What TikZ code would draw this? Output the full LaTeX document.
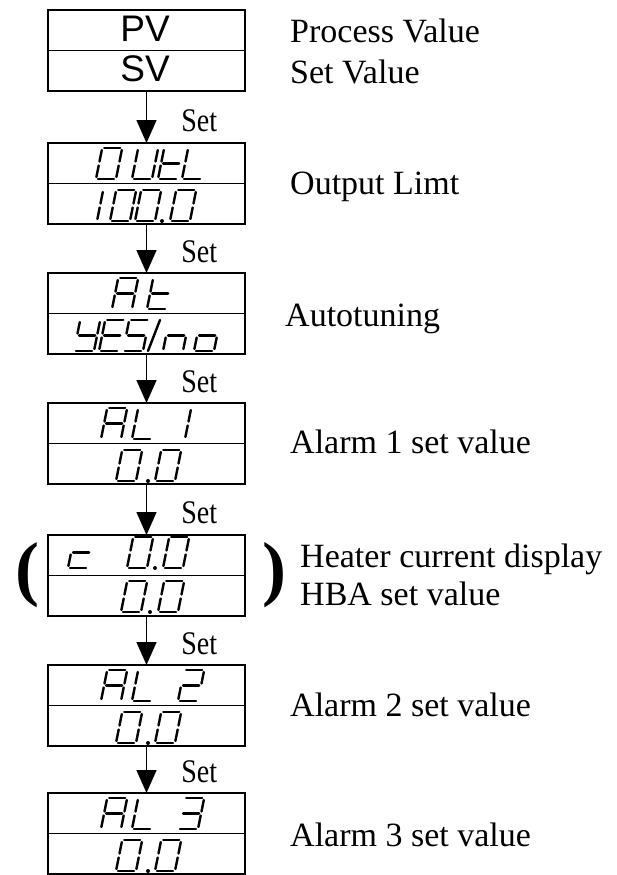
\documentclass[tikz,border=0pt]{standalone}
\usepackage{fontspec}
\setmainfont{Liberation Serif}
\setsansfont{Liberation Sans}
\newfontfamily\setfont[FakeStretch=0.85]{Liberation Serif}
\usetikzlibrary{arrows.meta}

% seven-segment strokes of one digit cell, 20 wide and 31 high, origin at
% the bottom left corner (a top, b/c right, d bottom, e/f left, g middle)
\tikzset{
  sega/.style={insert path={(2,-31) -- (18,-31)}},
  segb/.style={insert path={(20,-29) -- (20,-17.5)}},
  segc/.style={insert path={(20,-13.5) -- (20,-2)}},
  segd/.style={insert path={(2,0) -- (18,0)}},
  sege/.style={insert path={(0,-2) -- (0,-13.5)}},
  segf/.style={insert path={(0,-17.5) -- (0,-29)}},
  segg/.style={insert path={(2,-15.5) -- (18,-15.5)}},
}

% one slanted digit: box name, x and y offset from its north west corner, segments
\newcommand\segglyph[4]{%
  \begin{scope}[shift={(#1.north west)}, shift={(#2,#3)}, xslant=0.2]
    \foreach \s in {#4} {\draw[segstroke] (0,0) [seg\s];}
  \end{scope}}
\newcommand\segdot[3]{\fill ([shift={(#2,#3)}]#1.north west) circle (2pt);}

\begin{document}
\begin{tikzpicture}[x=1pt, y=-1pt,
    dispbox/.style={draw, line width=1.2pt, minimum width=197pt,
                    minimum height=81pt, inner sep=0pt, outer sep=0pt},
    divider/.style={line width=1.7pt},
    segstroke/.style={line width=2.4pt, line cap=round},
    pvtext/.style={font=\sffamily\fontsize{37}{44}\selectfont, inner sep=0pt},
    note/.style={anchor=base west, inner sep=0pt, font=\fontsize{34}{40}\selectfont},
    setarrow/.style={line width=1.6pt, -{Triangle[length=23pt,width=20pt]}},
    setlabel/.style={anchor=base west, xshift=34pt, inner sep=0pt,
                     font=\setfont\fontsize{33}{38}\selectfont},
    paren/.style={inner sep=0pt, font=\bfseries\fontsize{72}{80}\selectfont}]
  \useasboundingbox (0,0) rectangle (617,875);

  % the display boxes, top to bottom
  \node[dispbox] (pvsv)  at (146.5,50.5)  {};
  \node[dispbox] (outl)  at (146.5,183.5) {};
  \node[dispbox] (atune) at (146.5,313.5) {};
  \node[dispbox] (al1)   at (146.5,443.5) {};
  \node[dispbox] (heat)  at (146.5,575.5) {};
  \node[dispbox] (al2)   at (146.5,705.5) {};
  \node[dispbox] (al3)   at (146.5,833.5) {};
  \foreach \b in {pvsv,outl,atune,al1,heat,al2,al3}
    \draw[divider] (\b.west) -- (\b.east);

  \foreach \a/\b in {pvsv/outl, outl/atune, atune/al1, al1/heat, heat/al2, al2/al3}
    \draw[setarrow] (\a) -- (\b) node[setlabel, pos=0.78] {Set};

  \node[pvtext] (pv) at (145,29) {PV};
  \node[pvtext] (sv) at (145,69) {SV};

  % OUtL / 100.0
  \segglyph{outl}{48}{36}{a,b,c,d,e,f}
  \segglyph{outl}{84}{36}{b,c,d,e,f}
  \segglyph{outl}{110}{36}{d,e,f,g}
  \segglyph{outl}{134}{36}{d,e,f}
  \segglyph{outl}{49}{78}{e,f}
  \segglyph{outl}{62}{78}{a,b,c,d,e,f}
  \segglyph{outl}{87}{78}{a,b,c,d,e,f}
  \segdot{outl}{114}{78}
  \segglyph{outl}{122}{78}{a,b,c,d,e,f}

  % At / YES/no
  \segglyph{atune}{64}{36}{a,b,c,e,f,g}
  \segglyph{atune}{99}{36}{d,e,f,g}
  \segglyph{atune}{26}{78}{b,c,d,f,g}
  \segglyph{atune}{51}{78}{a,d,e,f,g}
  \segglyph{atune}{75}{78}{a,c,d,f,g}
  \draw[segstroke] ([shift={(100,78)}]atune.north west) -- ([shift={(112,47)}]atune.north west);
  \segglyph{atune}{115}{78}{c,e,g}
  \segglyph{atune}{146}{78}{c,d,e,g}

  % AL 1 / 0.0
  \segglyph{al1}{53}{36}{a,b,c,e,f,g}
  \segglyph{al1}{84}{36}{d,e,f}
  \segglyph{al1}{137}{36}{e,f}
  \segglyph{al1}{68}{78}{a,b,c,d,e,f}
  \segdot{al1}{100}{78}
  \segglyph{al1}{107}{78}{a,b,c,d,e,f}

  % c 0.0 / 0.0
  \segglyph{heat}{20}{33}{d,e,g}
  \segglyph{heat}{79}{33}{a,b,c,d,e,f}
  \segdot{heat}{107}{33}
  \segglyph{heat}{115}{33}{a,b,c,d,e,f}
  \segglyph{heat}{73}{77}{a,b,c,d,e,f}
  \segdot{heat}{102}{77}
  \segglyph{heat}{110}{77}{a,b,c,d,e,f}

  % AL 2 / 0.0
  \segglyph{al2}{53}{36}{a,b,c,e,f,g}
  \segglyph{al2}{84}{36}{d,e,f}
  \segglyph{al2}{130}{36}{a,b,d,e,g}
  \segglyph{al2}{68}{78}{a,b,c,d,e,f}
  \segdot{al2}{100}{78}
  \segglyph{al2}{107}{78}{a,b,c,d,e,f}

  % AL 3 / 0.0
  \segglyph{al3}{53}{36}{a,b,c,e,f,g}
  \segglyph{al3}{84}{36}{d,e,f}
  \segglyph{al3}{130}{36}{a,b,c,d,g}
  \segglyph{al3}{68}{78}{a,b,c,d,e,f}
  \segdot{al3}{100}{78}
  \segglyph{al3}{107}{78}{a,b,c,d,e,f}

  \node[paren] (lpar) at (27,575) {(};
  \node[paren] (rpar) at (274,575) {)};

  % what each display shows
  \node[note] (lpv)   at (290,43)  {Process Value};
  \node[note] (lsv)   at (290,83)  {Set Value};
  \node[note] (lout)  at (290,194) {Output Limt};
  \node[note] (lat)   at (285,326) {Autotuning};
  \node[note] (lal1)  at (290,453) {Alarm 1 set value};
  \node[note] (lheat) at (300,567) {Heater current display};
  \node[note] (lhba)  at (300,605) {HBA set value};
  \node[note] (lal2)  at (290,716) {Alarm 2 set value};
  \node[note] (lal3)  at (290,846) {Alarm 3 set value};
\end{tikzpicture}
\end{document}
